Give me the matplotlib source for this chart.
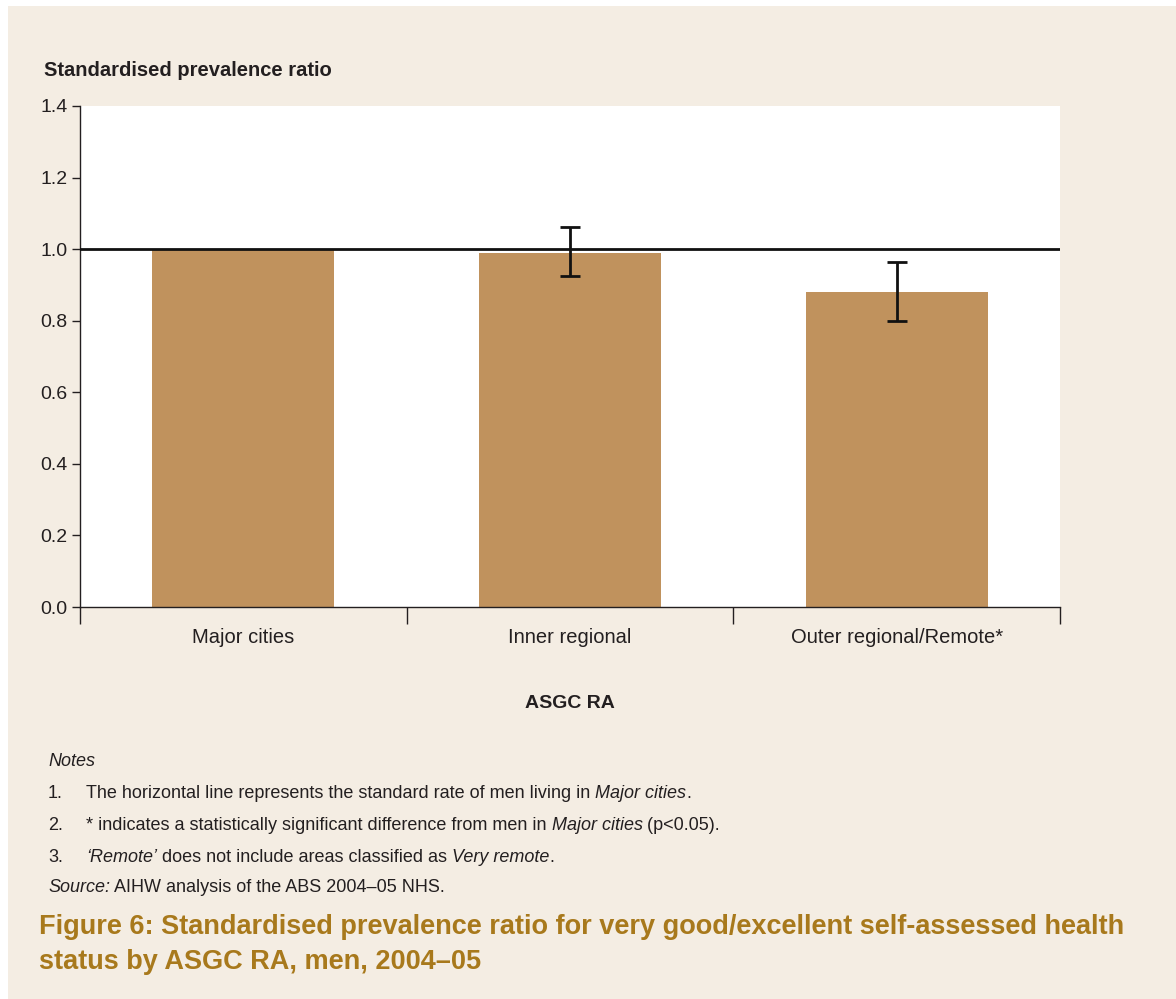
import numpy as np
import matplotlib
matplotlib.use("Agg")
from matplotlib import pyplot as plt
from matplotlib.patches import Rectangle

# data
categories = ["Major cities", "Inner regional", "Outer regional/Remote*"]
ratios = [1.00, 0.99, 0.88]
ci_low = [np.nan, 0.925, 0.80]
ci_high = [np.nan, 1.063, 0.965]
reference_rate = 1.0
yticks = [0.0, 0.2, 0.4, 0.6, 0.8, 1.0, 1.2, 1.4]

# each note is a list of (text, italic) runs
notes = [
    ("1.", [("The horizontal line represents the standard rate of men living in ", False),
            ("Major cities", True), (".", False)]),
    ("2.", [("* indicates a statistically significant difference from men in ", False),
            ("Major cities", True), (" (p<0.05).", False)]),
    ("3.", [("‘Remote’", True), (" does not include areas classified as ", False),
            ("Very remote", True), (".", False)]),
]
source = [("Source:", True), (" AIHW analysis of the ABS 2004–05 NHS.", False)]

bg = "#F4EDE3"
bar_col = "#C0925D"
txt = "#231F20"
gold = "#A8791C"

plt.rcParams["font.family"] = ["Liberation Sans", "DejaVu Sans"]

W, H = 1176, 999
fig = plt.figure(figsize=(W / 100, H / 100), dpi=100)
fig.patch.set_facecolor("white")
# cream panel behind everything
fig.patches.append(Rectangle((8 / W, 0), 1, 1 - 6 / H, transform=fig.transFigure,
                             facecolor=bg, edgecolor="none", zorder=-10))

ax = fig.add_axes([80 / W, 1 - 607 / H, 980 / W, 501 / H])
ax.set_facecolor("white")

x = np.arange(len(categories))
yerr = np.array([np.array(ratios) - np.array(ci_low), np.array(ci_high) - np.array(ratios)])
ax.bar(x, ratios, width=0.557, color=bar_col, zorder=2)
ax.errorbar(x, ratios, yerr=yerr, fmt="none", ecolor="#111111", elinewidth=2,
            capsize=7, capthick=2, zorder=4)
ax.axhline(reference_rate, color="#111111", lw=2, zorder=3)

ax.set_xlim(-0.5, 2.5)
ax.set_ylim(0, 1.4)
ax.set_yticks(yticks)
ax.set_yticklabels([f"{v:.1f}" for v in yticks], fontsize=14, color=txt)
ax.set_xticks(x)
ax.set_xticklabels(categories, fontsize=14.5, color=txt)
ax.tick_params(axis="x", length=0, pad=15)
ax.set_xticks([-0.5, 0.5, 1.5, 2.5], minor=True)
ax.tick_params(axis="x", which="minor", length=12, width=1, color=txt)
ax.tick_params(axis="y", length=6, width=1, color=txt, pad=3)

for s in ["top", "right"]:
    ax.spines[s].set_visible(False)
for s in ["left", "bottom"]:
    ax.spines[s].set_linewidth(1)
    ax.spines[s].set_color(txt)

fig.text(44 / W, 1 - 71 / H, "Standardised prevalence ratio", fontsize=14.5,
         fontweight="bold", color=txt, va="center", ha="left")
fig.text(570 / W, 1 - 704 / H, "ASGC RA", fontsize=14, fontweight="bold",
         color=txt, va="center", ha="center")

renderer = fig.canvas.get_renderer()


def draw_runs(x0, y0, runs, size):
    # lay out text pieces one after another, switching to italic where asked
    xp = x0
    for s, it in runs:
        t = fig.text(xp / W, 1 - y0 / H, s, fontsize=size, color=txt, va="center",
                     style="italic" if it else "normal")
        xp += t.get_window_extent(renderer).width


fs = 13
fig.text(48 / W, 1 - 761 / H, "Notes", fontsize=fs, style="italic", color=txt, va="center")
for i, (num, runs) in enumerate(notes):
    yy = 793 + i * 32.5
    fig.text(48 / W, 1 - yy / H, num, fontsize=fs, color=txt, va="center")
    draw_runs(86, yy, runs, fs)
draw_runs(48, 888, source, fs)

fig.text(39 / W, 1 - 927 / H,
         "Figure 6: Standardised prevalence ratio for very good/excellent self-assessed health",
         fontsize=19.5, fontweight="bold", color=gold, va="center")
fig.text(39 / W, 1 - 962 / H, "status by ASGC RA, men, 2004–05",
         fontsize=19.5, fontweight="bold", color=gold, va="center")

fig.savefig("out.png", dpi=100, facecolor=fig.get_facecolor())
